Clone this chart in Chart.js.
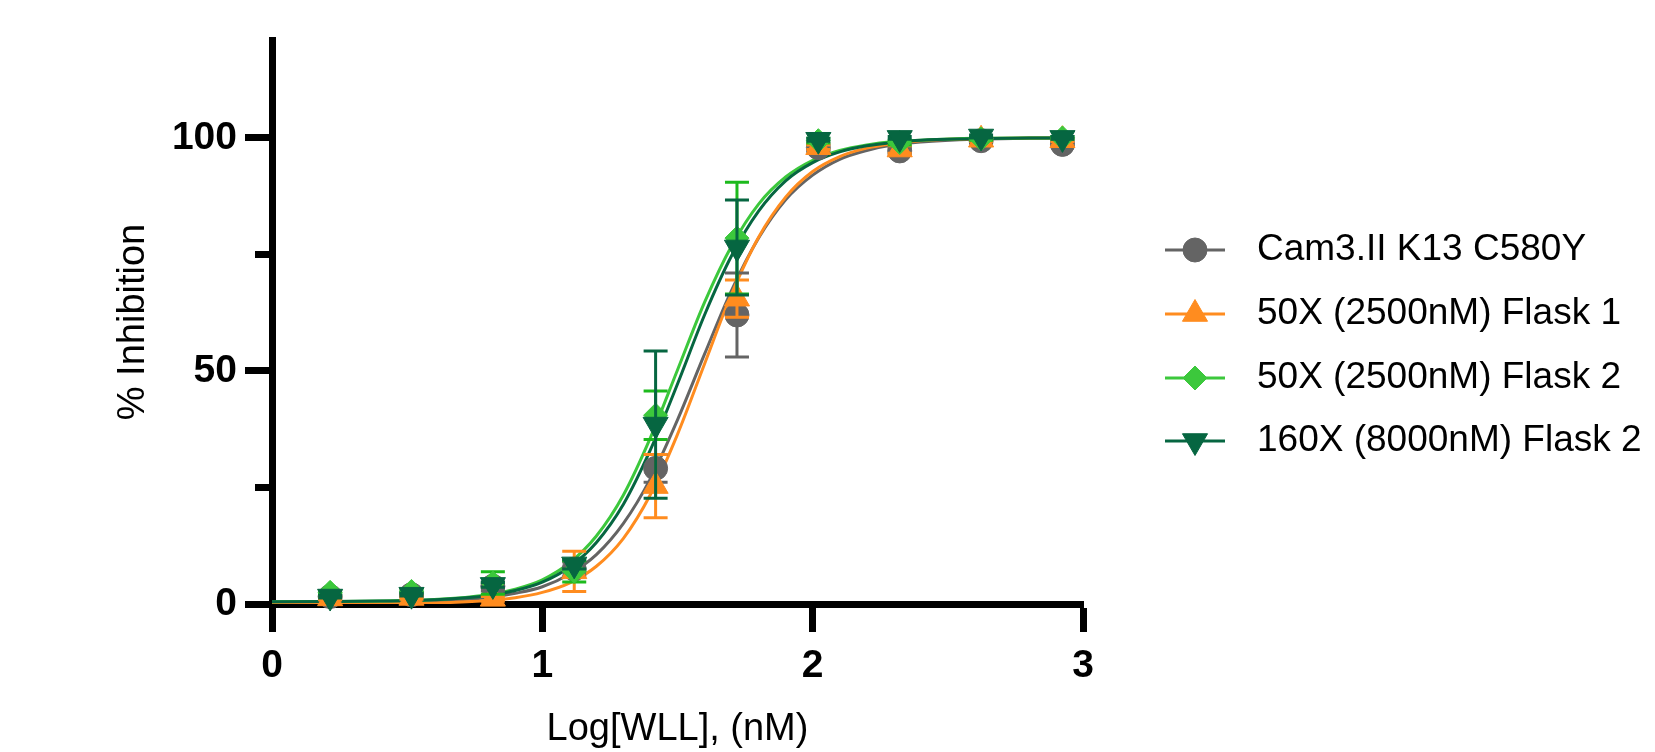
<!DOCTYPE html>
<html lang="en">
<head>
<meta charset="utf-8">
<title>% Inhibition vs Log[WLL]</title>
<script src="https://cdn.jsdelivr.net/npm/chart.js@4.4.1/dist/chart.umd.min.js"></script>
<style>
  html, body { margin: 0; padding: 0; background: #ffffff; }
  canvas { display: block; }
</style>
</head>
<body>
<canvas id="doseChart" width="1655" height="752"></canvas>
<script>
// =====================================
// DATA
// =====================================
const seriesNames = [
  "Cam3.II K13 C580Y",
  "50X (2500nM) Flask 1",
  "50X (2500nM) Flask 2",
  "160X (8000nM) Flask 2"
];

// log10 of the WLL concentrations (2-fold dilutions)
const logConc = [0.215, 0.516, 0.817, 1.118, 1.419, 1.72, 2.021, 2.322, 2.623, 2.924];

const cam3Mean   = [1.6, 2.0, 3.8, 7.5, 29.1, 62.0, 97.9, 97.2, 99.4, 98.6];
const cam3Err    = [0.4, 0.4, 1.0, 1.5, 3.0, 9.0, 0.8, 0.8, 0.4, 0.4];
const flask1Mean = [1.2, 1.3, 1.1, 7.0, 25.3, 65.5, 98.0, 97.5, 99.6, 99.5];
const flask1Err  = [0.3, 0.3, 0.5, 4.3, 6.8, 4.0, 0.5, 0.8, 0.3, 0.3];
const flask2Mean = [2.5, 2.7, 4.5, 7.0, 40.5, 78.5, 99.4, 99.0, 99.8, 100.0];
const flask2Err  = [0.3, 0.3, 2.4, 2.3, 5.2, 12.0, 0.5, 0.5, 0.3, 0.3];
const x160Mean   = [1.6, 2.0, 4.1, 8.5, 38.5, 76.5, 99.6, 100.0, 100.3, 100.0];
const x160Err    = [0.3, 0.3, 0.5, 1.0, 15.8, 10.2, 0.3, 0.3, 0.3, 0.3];

// fitted curves, sampled along x from the picture
const fitX      = [0, 0.2, 0.4, 0.6, 0.8, 0.9, 1.0, 1.1, 1.2, 1.3, 1.4, 1.5, 1.6, 1.7, 1.8, 1.9, 2.0, 2.1, 2.2, 2.3, 2.4, 2.6, 2.8, 2.93];
const cam3Fit   = [0.3, 0.34, 0.42, 0.66, 1.4, 2.3, 3.7, 6.4, 10.6, 17.3, 26.9, 39.5, 53.6, 67.3, 78.5, 86.7, 92.0, 95.4, 97.3, 98.5, 99.1, 99.7, 99.9, 100];
const flask1Fit = [0, 0.02, 0.06, 0.21, 0.73, 1.35, 2.5, 4.5, 8.1, 14.1, 23.5, 36.4, 51.5, 66.5, 78.7, 87.3, 92.8, 96.0, 97.8, 98.8, 99.4, 99.8, 100, 100];
const flask2Fit = [0.5, 0.54, 0.64, 0.95, 2.0, 3.2, 5.2, 8.8, 14.6, 23.4, 35.7, 50.2, 64.7, 76.8, 85.8, 91.6, 95.2, 97.3, 98.5, 99.2, 99.5, 99.9, 100, 100];
const x160Fit   = [0.5, 0.53, 0.62, 0.9, 1.8, 2.9, 4.7, 7.9, 13.2, 21.4, 33.1, 47.2, 62.0, 74.7, 84.3, 90.8, 94.7, 97.0, 98.3, 99.0, 99.5, 99.8, 100, 100];

const xTicks = [0, 1, 2, 3];
const yMajorTicks = [0, 50, 100];
const yMinorTicks = [25, 75];

// =====================================
// STYLE
// =====================================
const FONT = "'Liberation Sans', Arial, sans-serif";
const COLORS = {
  cam3: "#646464",
  flask1: "#ff8c1f",
  flask2: "#3cc83c",
  flask2Err: "#1dba1d",
  x160: "#066641"
};

Chart.defaults.font.family = FONT;
Chart.defaults.color = "#000000";

function toPoints(xs, ys) {
  return xs.map((x, i) => ({ x: x, y: ys[i] }));
}

function fitDataset(values, color, order) {
  return {
    type: "line",
    data: toPoints(fitX, values),
    borderColor: color,
    borderWidth: 3,
    pointRadius: 0,
    fill: false,
    cubicInterpolationMode: "monotone",
    order: order
  };
}

function pointDataset(label, means, errs, color, errColor, style, radius, rotation, order) {
  return {
    type: "scatter",
    label: label,
    data: toPoints(logConc, means),
    errors: errs,
    errorColor: errColor,
    backgroundColor: color,
    borderColor: color,
    borderWidth: 1,
    pointStyle: style,
    pointRadius: radius,
    pointHoverRadius: radius,
    pointRotation: rotation,
    showLine: false,
    clip: false,
    order: order
  };
}

// =====================================
// ERROR BARS (drawn just under each series' markers)
// =====================================
const errorBarPlugin = {
  id: "errorBars",
  beforeDatasetDraw(chart, args) {
    const ds = chart.data.datasets[args.index];
    if (!ds.errors) return;
    const ctx = chart.ctx;
    const xs = chart.scales.x;
    const ys = chart.scales.y;
    const cap = 12;

    ctx.save();
    ctx.strokeStyle = ds.errorColor;
    ctx.lineWidth = 3;
    ds.data.forEach((p, i) => {
      const e = ds.errors[i];
      if (!e) return;
      const px = xs.getPixelForValue(p.x);
      const top = ys.getPixelForValue(p.y + e);
      const bot = ys.getPixelForValue(p.y - e);
      ctx.beginPath();
      ctx.moveTo(px, top);
      ctx.lineTo(px, bot);
      ctx.moveTo(px - cap, top);
      ctx.lineTo(px + cap, top);
      ctx.moveTo(px - cap, bot);
      ctx.lineTo(px + cap, bot);
      ctx.stroke();
    });
    ctx.restore();
  }
};

// =====================================
// LEGEND (line + marker sample, like the source plot)
// =====================================
const sideLegendPlugin = {
  id: "sideLegend",
  afterDraw(chart, args, opts) {
    const ctx = chart.ctx;
    const pointSets = chart.data.datasets.filter(ds => ds.type === "scatter");

    ctx.save();
    pointSets.forEach((ds, i) => {
      const y = opts.rows[i];
      ctx.strokeStyle = ds.borderColor;
      ctx.lineWidth = 3;
      ctx.beginPath();
      ctx.moveTo(opts.lineStart, y);
      ctx.lineTo(opts.lineEnd, y);
      ctx.stroke();

      ctx.fillStyle = ds.backgroundColor;
      ctx.strokeStyle = ds.borderColor;
      ctx.lineWidth = 1;
      Chart.helpers.drawPoint(ctx, {
        pointStyle: ds.pointStyle,
        rotation: ds.pointRotation,
        radius: ds.pointRadius,
        borderWidth: 1
      }, (opts.lineStart + opts.lineEnd) / 2, y);

      ctx.fillStyle = "#000000";
      ctx.font = opts.font;
      ctx.textAlign = "left";
      ctx.textBaseline = "middle";
      ctx.fillText(ds.label, opts.textX, y);
    });
    ctx.restore();
  }
};

// =====================================
// BUILD CHART
// =====================================
const chartCanvas = document.getElementById("doseChart");

new Chart(chartCanvas, {
  data: {
    datasets: [
      fitDataset(cam3Fit, COLORS.cam3, 13),
      fitDataset(flask1Fit, COLORS.flask1, 12),
      fitDataset(flask2Fit, COLORS.flask2, 11),
      fitDataset(x160Fit, COLORS.x160, 10),
      pointDataset(seriesNames[0], cam3Mean, cam3Err, COLORS.cam3, COLORS.cam3, "circle", 12, 0, 4),
      pointDataset(seriesNames[1], flask1Mean, flask1Err, COLORS.flask1, COLORS.flask1, "triangle", 14.5, 0, 3),
      pointDataset(seriesNames[2], flask2Mean, flask2Err, COLORS.flask2, COLORS.flask2Err, "rectRot", 12, 0, 2),
      pointDataset(seriesNames[3], x160Mean, x160Err, COLORS.x160, COLORS.x160, "triangle", 14.5, 180, 1)
    ]
  },
  options: {
    responsive: false,
    animation: false,
    events: [],
    layout: {
      padding: { left: 0, top: 40, right: 572, bottom: 0 }
    },
    plugins: {
      legend: { display: false },
      tooltip: { enabled: false },
      sideLegend: {
        rows: [250, 314, 378, 441],
        lineStart: 1165,
        lineEnd: 1225,
        textX: 1257,
        font: "37px " + FONT
      }
    },
    scales: {
      x: {
        type: "linear",
        min: 0,
        max: 3,
        z: 1,
        afterBuildTicks: scale => { scale.ticks = xTicks.map(v => ({ value: v })); },
        afterFit: scale => { scale.height = 148; },
        border: { display: true, color: "#000000", width: 7 },
        grid: {
          drawOnChartArea: false,
          drawTicks: true,
          tickLength: 28,
          tickWidth: 7,
          tickColor: "#000000"
        },
        ticks: {
          padding: 11,
          font: { size: 39, weight: "bold" },
          callback: v => String(v)
        },
        title: {
          display: true,
          text: "Log[WLL], (nM)",
          font: { size: 38 },
          padding: { top: 0, bottom: 0 }
        }
      },
      y: {
        type: "linear",
        position: "left",
        min: 0,
        max: 121,
        z: 1,
        weight: 1,
        afterBuildTicks: scale => { scale.ticks = yMajorTicks.map(v => ({ value: v })); },
        afterFit: scale => { scale.width = 272; },
        border: { display: true, color: "#000000", width: 7 },
        grid: {
          drawOnChartArea: false,
          drawTicks: true,
          tickLength: 27,
          tickWidth: 7,
          tickColor: "#000000"
        },
        ticks: {
          padding: 8,
          font: { size: 39, weight: "bold" },
          callback: v => String(v)
        },
        title: {
          display: true,
          text: "% Inhibition",
          font: { size: 38 },
          padding: { top: 111, bottom: 0 }
        }
      },
      yMinor: {
        type: "linear",
        position: "left",
        min: 0,
        max: 121,
        z: 1,
        weight: 0,
        afterBuildTicks: scale => { scale.ticks = yMinorTicks.map(v => ({ value: v })); },
        afterFit: scale => { scale.width = 0; },
        border: { display: false },
        grid: {
          drawOnChartArea: false,
          drawTicks: true,
          tickLength: 17,
          tickWidth: 7,
          tickColor: "#000000"
        },
        ticks: { display: false }
      }
    }
  },
  plugins: [errorBarPlugin, sideLegendPlugin]
});
</script>
</body>
</html>
